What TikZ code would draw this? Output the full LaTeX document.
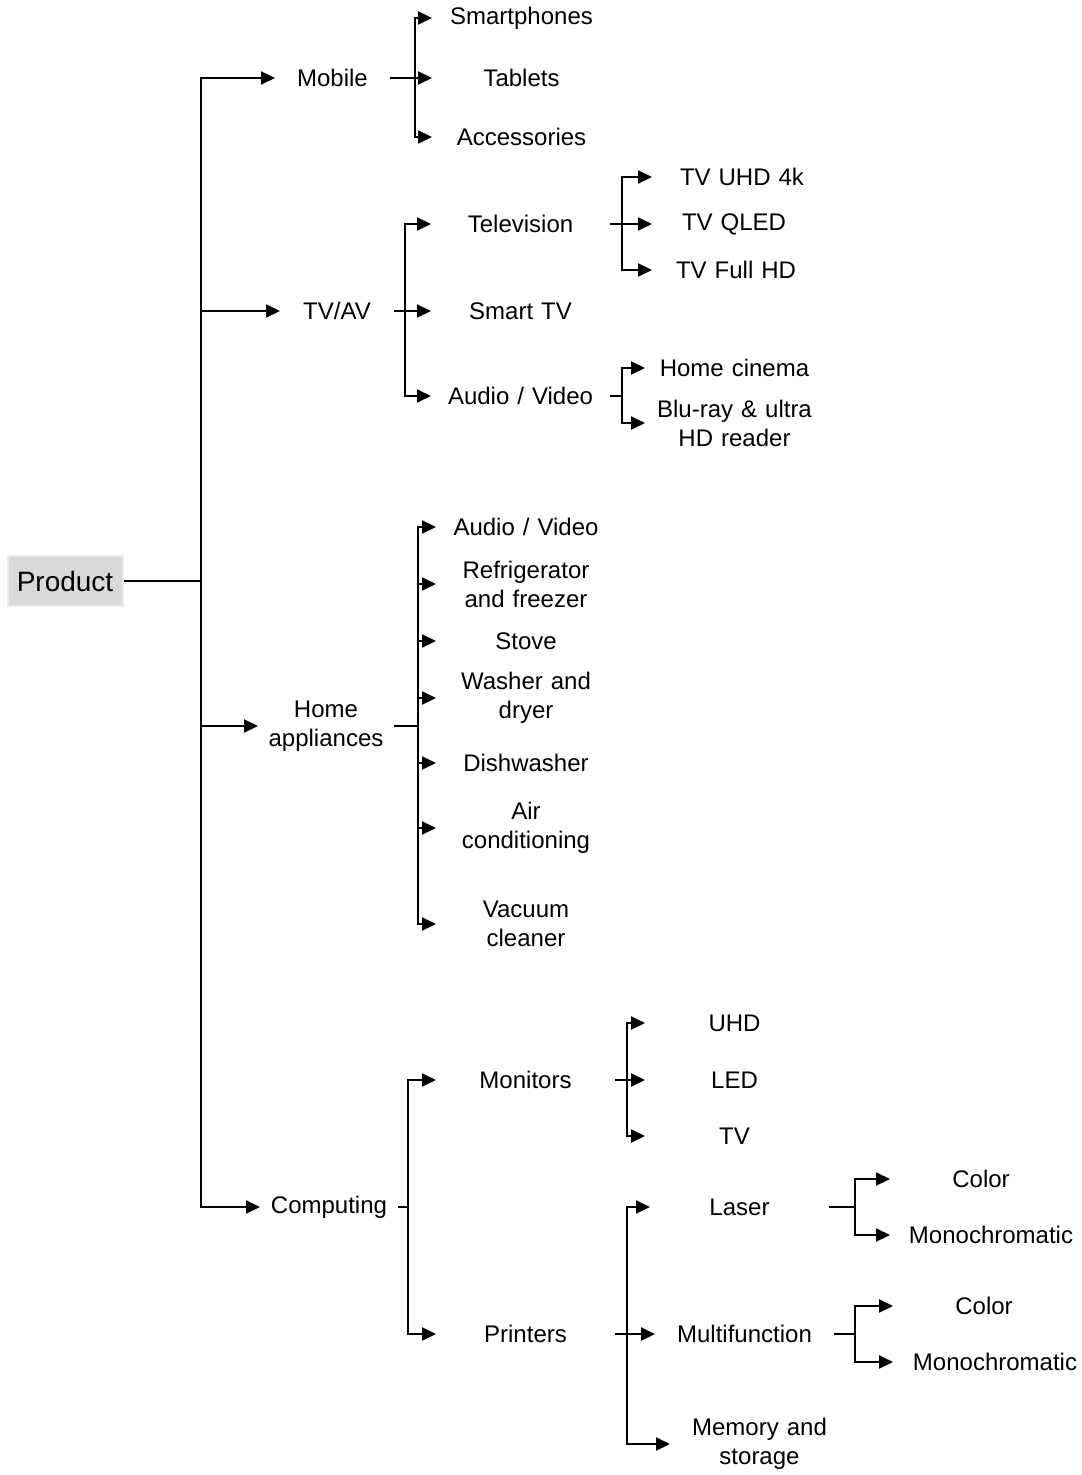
\documentclass[tikz,border=0pt]{standalone}
\usepackage{fontspec}
\setmainfont{Liberation Sans}
\usetikzlibrary{arrows.meta}
\tikzset{
	voce/.style={anchor=west, text width=#1, align=center, inner sep=0pt},
	voce/.default=88.5pt,
	freccia/.style={-{Triangle[length=7pt,width=6.5pt]}},
}
\begin{document}
\begin{tikzpicture}[x=0.5pt, y=-0.5pt, line width=1pt, font=\fontsize{12}{14.5}\selectfont]
		\useasboundingbox (0,0) rectangle (1081,1475);
		% radice
		\node[fill=black!15, draw=black!8, minimum width=57.5pt, minimum height=25pt, inner sep=0pt,
			font=\fontsize{14}{16}\selectfont] (prod) at (65,581) {Product};
		\coordinate (jprod) at (201,581);
		% primo livello
		\node[voce=56.5pt] (mob) at (275,78) {Mobile};
		\node[voce=56pt] (tvav) at (280,311) {TV/AV};
		\node[voce=67pt] (casa) at (258,726) {Home\\appliances};
		\node[voce=68pt] (comp) at (260,1207) {Computing};
		\draw (prod.east) -- (jprod);
		\foreach \n in {mob,tvav,casa,comp}
			\draw[freccia] (jprod) |- (\n.west);
		% mobile
		\node[voce] (smart) at (432,18) {Smartphones};
		\node[voce] (tab) at (432,78) {Tablets};
		\node[voce] (acc) at (432,137) {Accessories};
		\coordinate (jmob) at (415,78);
		\draw (mob.east) -- (jmob);
		\foreach \n in {smart,tab,acc}
			\draw[freccia] (jmob) |- (\n.west);
		% tv/av
		\node[voce] (tele) at (431,224) {Television};
		\node[voce] (stv) at (431,311) {Smart TV};
		\node[voce] (av) at (431,396) {Audio / Video};
		\coordinate (jtv) at (405,311);
		\draw (tvav.east) -- (jtv);
		\foreach \n in {tele,stv,av}
			\draw[freccia] (jtv) |- (\n.west);
		% televisori
		\node[voce=89pt] (uhdk) at (652,177) {TV UHD 4k};
		\node[voce=81pt] (qled) at (652,224) {TV QLED};
		\node[voce=83pt] (fhd) at (652,270) {TV Full HD};
		\coordinate (jtele) at (622,224);
		\draw (tele.east) -- (jtele);
		\foreach \n in {uhdk,qled,fhd}
			\draw[freccia] (jtele) |- (\n.west);
		% audio / video
		\node[voce] (cine) at (645,368) {Home cinema};
		\node[voce] (blu) at (645,423) {Blu-ray \& ultra\\HD reader};
		\coordinate (jav) at (622,396);
		\draw (av.east) -- (jav);
		\foreach \n in {cine,blu}
			\draw[freccia] (jav) |- (\n.west);
		% elettrodomestici
		\node[voce=89pt] (eav) at (436,527) {Audio / Video};
		\node[voce=89pt] (frigo) at (436,584) {Refrigerator\\and freezer};
		\node[voce=89pt] (forno) at (436,641) {Stove};
		\node[voce=89pt] (lava) at (436,698) {Washer and\\dryer};
		\node[voce=89pt] (piatti) at (436,763) {Dishwasher};
		\node[voce=89pt] (clima) at (436,828) {Air\\conditioning};
		\node[voce=89pt] (aspira) at (436,924) {Vacuum\\cleaner};
		\coordinate (jcasa) at (418,726);
		\draw (casa.east) -- (jcasa);
		\foreach \n in {eav,frigo,forno,lava,piatti,clima,aspira}
			\draw[freccia] (jcasa) |- (\n.west);
		% informatica
		\node[voce] (mon) at (436,1080) {Monitors};
		\node[voce] (stamp) at (436,1334) {Printers};
		\coordinate (jcomp) at (408,1207);
		\draw (comp.east) -- (jcomp);
		\foreach \n in {mon,stamp}
			\draw[freccia] (jcomp) |- (\n.west);
		% monitor
		\node[voce] (uhd) at (645,1023) {UHD};
		\node[voce] (led) at (645,1080) {LED};
		\node[voce] (mtv) at (645,1136) {TV};
		\coordinate (jmon) at (627,1080);
		\draw (mon.east) -- (jmon);
		\foreach \n in {uhd,led,mtv}
			\draw[freccia] (jmon) |- (\n.west);
		% stampanti
		\node[voce] (laser) at (650,1207) {Laser};
		\node[voce] (multi) at (655,1334) {Multifunction};
		\node[voce] (mem) at (670,1444) {Memory and\\storage};
		\coordinate (jstamp) at (627,1334);
		\draw (stamp.east) -- (jstamp);
		\foreach \n in {laser,multi,mem}
			\draw[freccia] (jstamp) |- (\n.west);
		% laser
		\node[voce=90pt] (lcol) at (890,1179) {Color};
		\node[voce=100pt] (lmono) at (890,1235) {Monochromatic};
		\coordinate (jlaser) at (855,1207);
		\draw (laser.east) -- (jlaser);
		\foreach \n in {lcol,lmono}
			\draw[freccia] (jlaser) |- (\n.west);
		% multifunzione
		\node[voce=90pt] (mcol) at (893,1306) {Color};
		\node[voce=101pt] (mmono) at (893,1362) {Monochromatic};
		\coordinate (jmulti) at (855,1334);
		\draw (multi.east) -- (jmulti);
		\foreach \n in {mcol,mmono}
			\draw[freccia] (jmulti) |- (\n.west);
	\end{tikzpicture}
\end{document}
